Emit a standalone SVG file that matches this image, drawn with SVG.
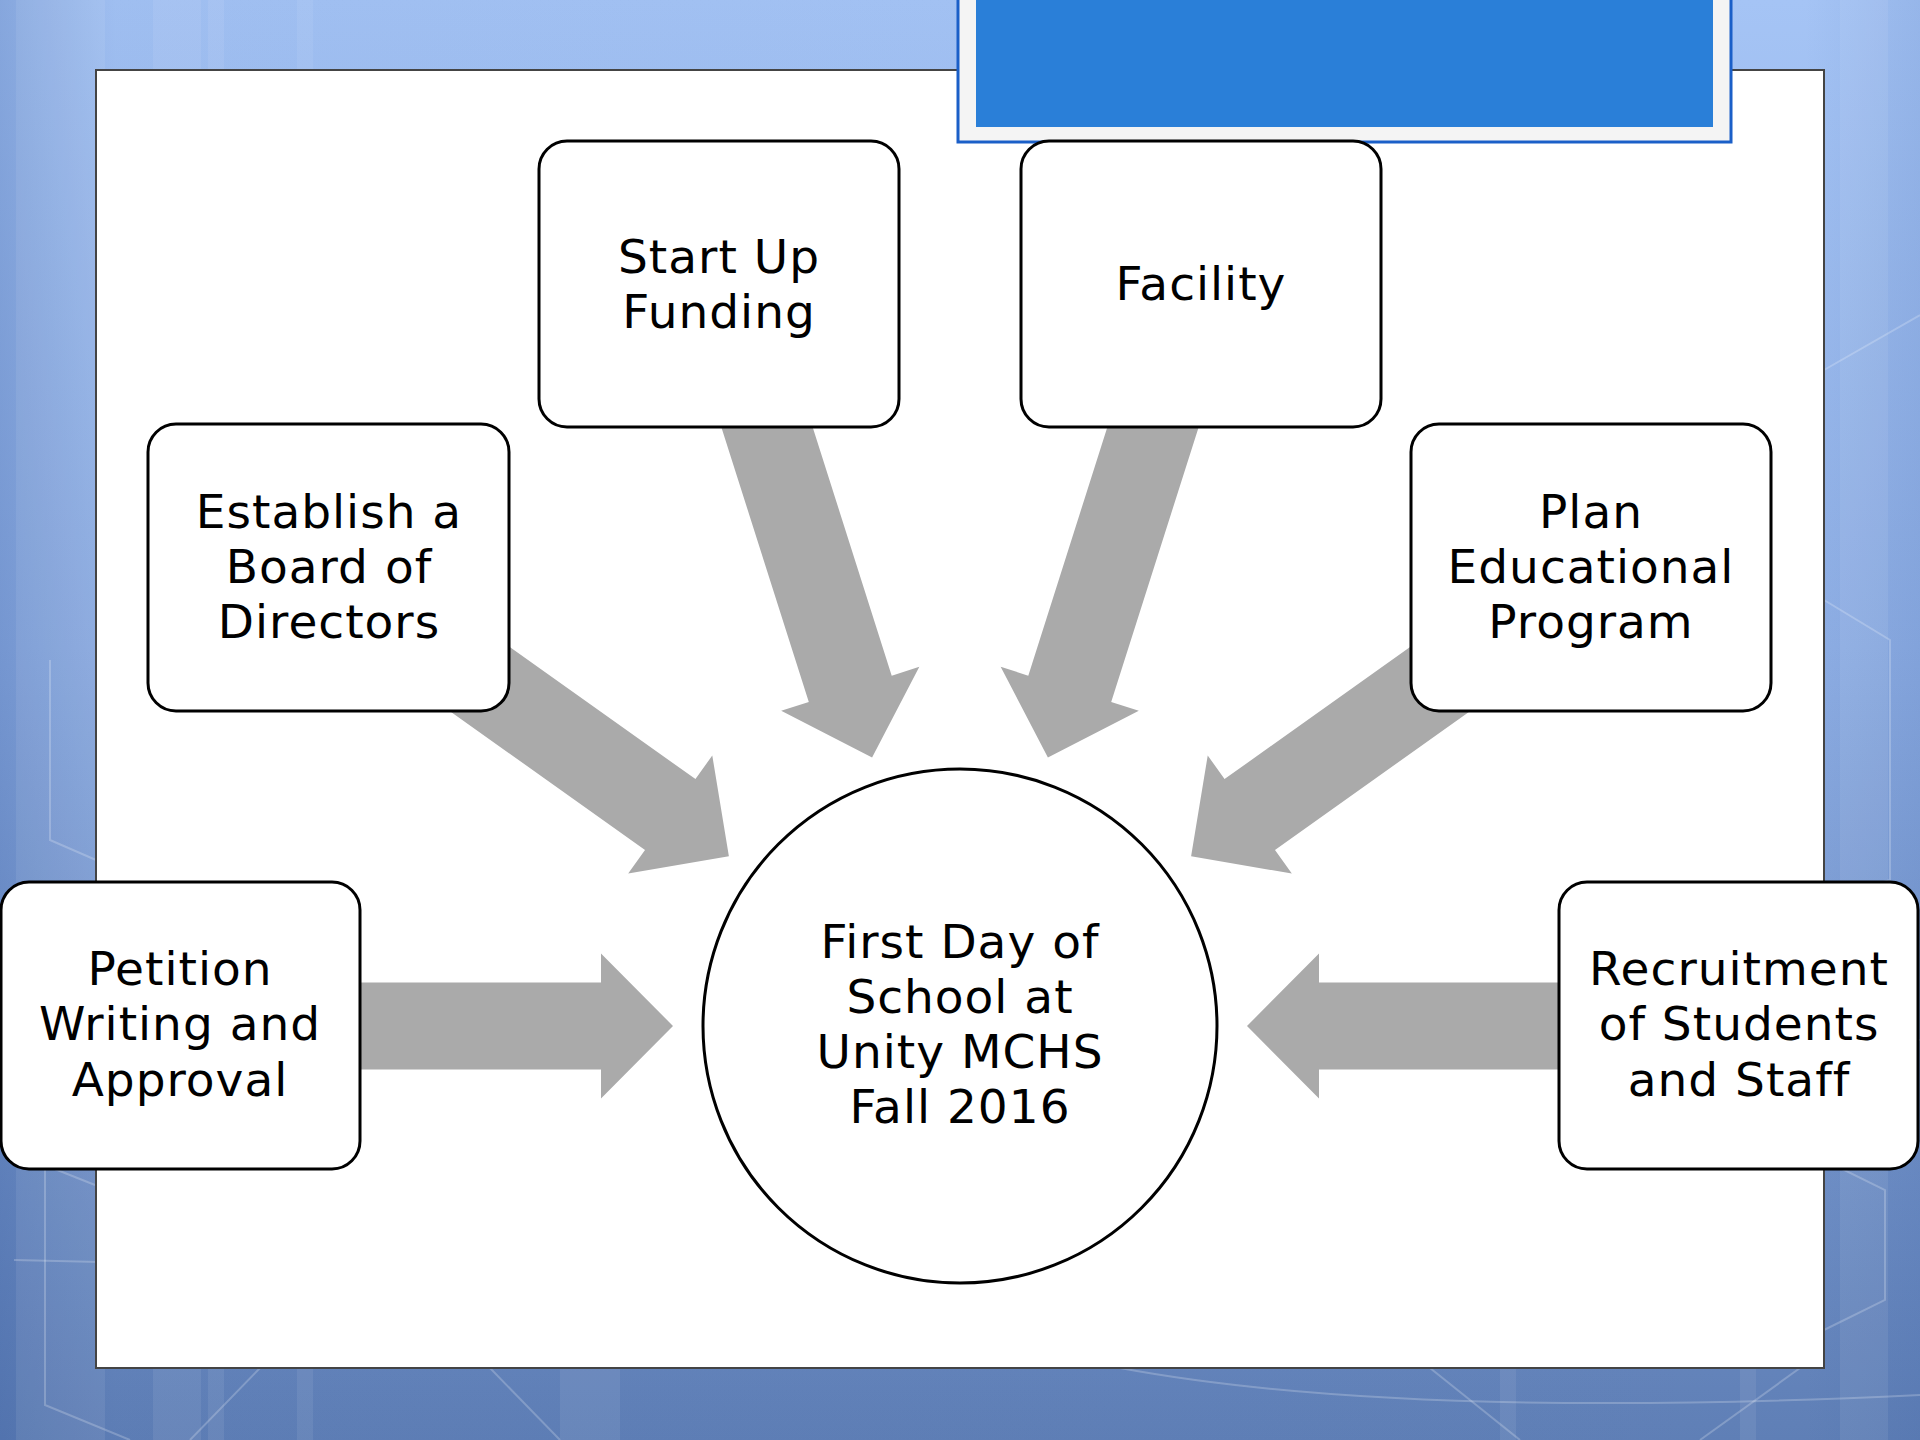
<svg xmlns="http://www.w3.org/2000/svg" xmlns:xlink="http://www.w3.org/1999/xlink" width="1920" height="1440" viewBox="0 0 1920 1440">
  <defs>
    <linearGradient id="bgV" x1="0" y1="0" x2="0" y2="1">
      <stop offset="0" stop-color="#a5c4f5"/>
      <stop offset="0.45" stop-color="#8eaee4"/>
      <stop offset="1" stop-color="#5f7fb6"/>
    </linearGradient>
    <linearGradient id="bgH" x1="0" y1="0" x2="1" y2="0">
      <stop offset="0" stop-color="#2a4f96" stop-opacity="0.25"/>
      <stop offset="0.06" stop-color="#2a4f96" stop-opacity="0.05"/>
      <stop offset="0.94" stop-color="#2a4f96" stop-opacity="0.0"/>
      <stop offset="1" stop-color="#2a4f96" stop-opacity="0.12"/>
    </linearGradient>
    <polygon id="arrow" points="0,-43.5 301,-43.5 301,-72.5 373,0 301,72.5 301,43.5 0,43.5"/>
  </defs>
  <style>
    .stripe { fill: #ffffff; }
    .hex { fill: none; stroke: #ffffff; stroke-opacity: 0.22; stroke-width: 2; }
    .conn { fill: #aaaaaa; }
    .box { fill: #ffffff; stroke: #000000; stroke-width: 3; }
    .lbl { font-family: "DejaVu Sans", "Noto Sans", sans-serif; font-size: 47px; letter-spacing: 1px; fill: #000000; text-anchor: middle; }
  </style>

  <!-- background -->
  <rect x="0" y="0" width="1920" height="1440" fill="url(#bgV)"/>
  <rect x="0" y="0" width="1920" height="1440" fill="url(#bgH)"/>
  <g opacity="0.07">
    <rect class="stripe" x="16" y="0" width="48" height="1440"/>
    <rect class="stripe" x="64" y="0" width="41" height="1440"/>
    <rect class="stripe" x="153" y="0" width="48" height="1440"/>
    <rect class="stripe" x="208" y="0" width="16" height="1440"/>
    <rect class="stripe" x="297" y="0" width="16" height="1440"/>
    <rect class="stripe" x="560" y="1368" width="60" height="72"/>
    <rect class="stripe" x="1840" y="0" width="48" height="1440"/>
    <rect class="stripe" x="1500" y="1368" width="16" height="72"/>
    <rect class="stripe" x="1740" y="1368" width="16" height="72"/>
  </g>
  <g class="hex">
    <polyline points="0,1130 45,1100 100,1130"/>
    <polyline points="12,1152 95,1185"/>
    <polyline points="45,1160 45,1405 130,1440"/>
    <polyline points="14,1260 100,1262"/>
    <polyline points="50,660 50,840 96,860"/>
    <polyline points="1920,315 1824,370"/>
    <polyline points="1824,1030 1920,1040"/>
    <polyline points="1824,1160 1885,1190 1885,1300 1824,1330"/>
    <path d="M1120,1368 Q1400,1420 1920,1395"/>
    <polyline points="1430,1368 1520,1440"/>
    <polyline points="1800,1368 1700,1440"/>
    <polyline points="190,1440 260,1368"/>
    <polyline points="560,1440 490,1368"/>
    <polyline points="1824,600 1890,640 1890,880 1824,900"/>
  </g>

  <!-- content panel -->
  <rect x="96" y="70" width="1728" height="1298" fill="#ffffff" stroke="#444444" stroke-width="2"/>

  <!-- title placeholder -->
  <rect x="958" y="-4" width="773" height="146" fill="#f4f4f4" stroke="#1a5fc8" stroke-width="3"/>
  <rect x="976" y="0" width="737" height="127" fill="#2a7fd8"/>

  <!-- connectors -->
  <g id="connectors" class="conn">
    <use xlink:href="#arrow" href="#arrow" transform="translate(300,1026)"/>
    <use xlink:href="#arrow" href="#arrow" transform="translate(1620,1026) rotate(180)"/>
    <use xlink:href="#arrow" href="#arrow" transform="translate(759,402) rotate(72.35)"/>
    <use xlink:href="#arrow" href="#arrow" transform="translate(1161,402) rotate(107.65)"/>
    <use xlink:href="#arrow" href="#arrow" transform="translate(425,640) rotate(35.44)"/>
    <use xlink:href="#arrow" href="#arrow" transform="translate(1495,640) rotate(144.56)"/>
  </g>

  <!-- nodes -->
  <g id="node-startup">
    <rect class="box" x="539" y="141" width="360" height="286" rx="28"/>
    <text class="lbl" x="719" y="273">Start Up</text>
    <text class="lbl" x="719" y="328">Funding</text>
  </g>
  <g id="node-facility">
    <rect class="box" x="1021" y="141" width="360" height="286" rx="28"/>
    <text class="lbl" x="1201" y="300">Facility</text>
  </g>
  <g id="node-board">
    <rect class="box" x="148" y="424" width="361" height="287" rx="28"/>
    <text class="lbl" x="329" y="528">Establish a</text>
    <text class="lbl" x="329" y="583">Board of</text>
    <text class="lbl" x="329" y="638">Directors</text>
  </g>
  <g id="node-plan">
    <rect class="box" x="1411" y="424" width="360" height="287" rx="28"/>
    <text class="lbl" x="1591" y="528">Plan</text>
    <text class="lbl" x="1591" y="583">Educational</text>
    <text class="lbl" x="1591" y="638">Program</text>
  </g>
  <g id="node-petition">
    <rect class="box" x="1" y="882" width="359" height="287" rx="28"/>
    <text class="lbl" x="180" y="985">Petition</text>
    <text class="lbl" x="180" y="1040">Writing and</text>
    <text class="lbl" x="180" y="1096">Approval</text>
  </g>
  <g id="node-recruitment">
    <rect class="box" x="1559" y="882" width="359" height="287" rx="28"/>
    <text class="lbl" x="1739" y="985">Recruitment</text>
    <text class="lbl" x="1739" y="1040">of Students</text>
    <text class="lbl" x="1739" y="1096">and Staff</text>
  </g>
  <g id="node-firstday">
    <circle class="box" cx="960" cy="1026" r="257"/>
    <text class="lbl" x="960" y="958">First Day of</text>
    <text class="lbl" x="960" y="1013">School at</text>
    <text class="lbl" x="960" y="1068">Unity MCHS</text>
    <text class="lbl" x="960" y="1123">Fall 2016</text>
  </g>
</svg>
